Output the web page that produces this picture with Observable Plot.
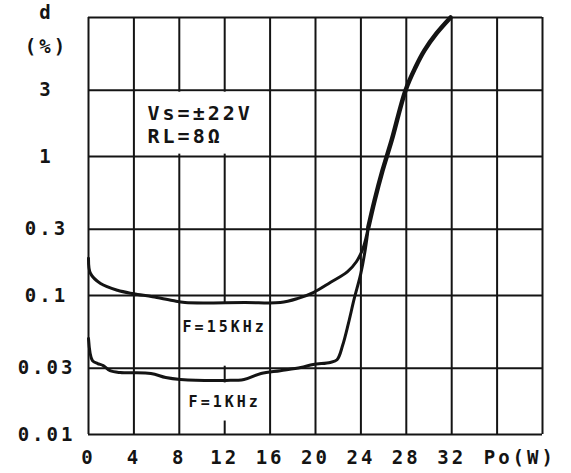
<!DOCTYPE html>
<html>
<head>
<meta charset="utf-8">
<script src="https://cdn.jsdelivr.net/npm/d3@7"></script>
<script src="https://cdn.jsdelivr.net/npm/@observablehq/plot@0.6"></script>
<style>
  html, body { margin: 0; padding: 0; background: #fff; }
  svg text { letter-spacing: 3px; }
</style>
</head>
<body>
<div id="chart"></div>
<script>
// ---- data ----
const xGrid = [0, 4, 8, 12, 16, 20, 24, 28, 32, 36, 40];
const xTicks = [0, 4, 8, 12, 16, 20, 24, 28, 32];
const xAxisTitle = "Po(W)";
const xAxisTitleAt = 38;

const yGrid = [0.01, 0.03, 0.1, 0.3, 1, 3, 10];
const yTicks = [0.01, 0.03, 0.1, 0.3, 1, 3];
const yTickLabels = ["0.01", "0.03", "0.1", "0.3", "1", "3"];
const yTitle = ["d", "(%)"];

// f = 15 kHz (up to where it joins the 1 kHz curve)
const power15k = [0, 0.18, 1.06, 2.55, 3.96, 5.64, 7.4, 8.5, 13.8, 16.9, 18.4, 19.8, 21.3, 22.8, 23.6, 24.2, 24.65];
const thd15k   = [0.185, 0.144, 0.122, 0.109, 0.103, 0.098, 0.092, 0.089, 0.089, 0.089, 0.095, 0.105, 0.124, 0.148, 0.175, 0.22, 0.308];

// f = 1 kHz (up to the junction)
const power1k = [0, 0.35, 0.8, 1.3, 1.9, 2.8, 5.5, 6.8, 8.1, 12.1, 13.7, 15.2, 16.9, 18.7, 19.8, 21.3, 21.9, 22.4, 22.9, 23.4, 24.0, 24.4, 24.65];
const thd1k   = [0.049, 0.034, 0.0324, 0.0313, 0.0288, 0.0279, 0.0275, 0.0257, 0.0249, 0.0245, 0.0249, 0.0275, 0.0288, 0.0303, 0.0319, 0.033, 0.0345, 0.044, 0.063, 0.094, 0.145, 0.218, 0.308];

// both frequencies coincide above the junction
const powerShared = [24.65, 25.2, 25.9, 26.7, 27.93, 28.8, 29.6, 30.66, 31.9];
const thdShared   = [0.308, 0.48, 0.79, 1.30, 2.99, 4.37, 5.8, 7.68, 10];

const conditionText = ["Vs=±22V", "RL=8Ω"];
const curveLabels = ["F=15KHz", "F=1KHz"];
const curveLabelPower = [12, 12];
const curveLabelThd = [0.059, 0.017];

// white label backgrounds (data units)
const boxPower1 = [4.2, 8.25, 8.25];
const boxPower2 = [15.8, 15.75, 15.75];
const boxThd1 = [1.04, 0.031, 0.0125];
const boxThd2 = [2.9, 0.087, 0.0235];

// ---- build tables ----
const s15 = power15k.map((p, i) => ({power: p, thd: thd15k[i]}));
const s1 = power1k.map((p, i) => ({power: p, thd: thd1k[i]}));
const sShared = powerShared.map((p, i) => ({power: p, thd: thdShared[i]}));
const boxes = boxPower1.map((p, i) => ({x1: p, x2: boxPower2[i], y1: boxThd1[i], y2: boxThd2[i]}));
const curveNotes = curveLabels.map((t, i) => ({text: t, power: curveLabelPower[i], thd: curveLabelThd[i]}));
const condNotes = [{text: conditionText.join("\n"), power: 5.2, thd: 1.72}];

const ink = "#141414";

const chart = Plot.plot({
  width: 571,
  height: 473,
  marginLeft: 88,
  marginRight: 29,
  marginTop: 17,
  marginBottom: 39,
  style: {
    background: "#fff",
    color: ink,
    fontFamily: "'DejaVu Sans Mono', monospace",
    fontWeight: "bold",
    fontSize: "19px"
  },
  x: {domain: [0, 40]},
  y: {type: "log", domain: [0.01, 10]},
  marks: [
    Plot.ruleX(xGrid, {stroke: ink, strokeWidth: 2}),
    Plot.ruleY(yGrid, {stroke: ink, strokeWidth: 2}),
    Plot.rect(boxes, {x1: "x1", x2: "x2", y1: "y1", y2: "y2", fill: "#fff"}),
    Plot.line(s15, {x: "power", y: "thd", curve: "catmull-rom", stroke: ink, strokeWidth: 3}),
    Plot.line(s1, {x: "power", y: "thd", curve: "catmull-rom", stroke: ink, strokeWidth: 3}),
    Plot.line(sShared, {x: "power", y: "thd", curve: "catmull-rom", stroke: ink, strokeWidth: 4.5}),
    Plot.axisX([...xTicks, xAxisTitleAt], {
      tickSize: 0, tickPadding: 16, label: null,
      tickFormat: d => d === xAxisTitleAt ? xAxisTitle : String(d),
      fontSize: 19
    }),
    Plot.axisY(yTicks, {
      tickSize: 0, tickPadding: 42, label: null, textAnchor: "middle",
      tickFormat: d => yTickLabels[yTicks.indexOf(d)],
      fontSize: 19
    }),
    Plot.text([yTitle[0]], {frameAnchor: "top-left", dx: -42, dy: -5, textAnchor: "middle", lineAnchor: "middle", fontSize: 19}),
    Plot.text([yTitle[1]], {frameAnchor: "top-left", dx: -42, dy: 29, textAnchor: "middle", lineAnchor: "middle", fontSize: 19}),
    Plot.text(condNotes, {x: "power", y: "thd", text: "text", textAnchor: "start", lineAnchor: "middle", lineHeight: 1.15, fontSize: 20}),
    Plot.text(curveNotes, {x: "power", y: "thd", text: "text", textAnchor: "middle", lineAnchor: "middle", fontSize: 15})
  ]
});

document.getElementById("chart").appendChild(chart);
</script>
</body>
</html>
